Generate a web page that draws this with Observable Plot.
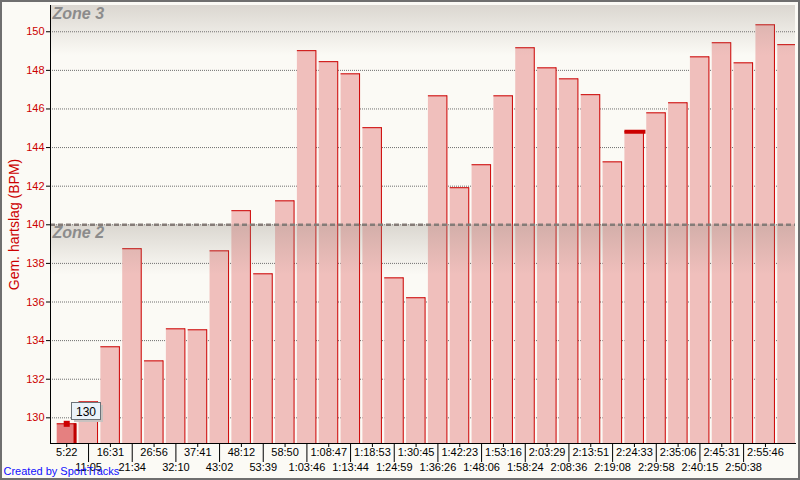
<!DOCTYPE html>
<html><head><meta charset="utf-8">
<script src="https://cdn.jsdelivr.net/npm/d3@7"></script>
<script src="https://cdn.jsdelivr.net/npm/@observablehq/plot@0.6"></script>
<style>
html,body{margin:0;padding:0;background:#fbfaf5;}
#wrap{position:relative;width:800px;height:480px;overflow:hidden;background:#fbfaf5;}
#border{position:absolute;left:0;top:0;width:800px;height:480px;box-sizing:border-box;border:2px solid #6f6f6f;pointer-events:none;}
</style></head>
<body><div id="wrap"><div id="border"></div></div>
<script>
// ---- data ----
const timeLabels = ["5:22","11:05","16:31","21:34","26:56","32:10","37:41","43:02","48:12","53:39","58:50",
  "1:03:46","1:08:47","1:13:44","1:18:53","1:24:59","1:30:45","1:36:26","1:42:23","1:48:06","1:53:16",
  "1:58:24","2:03:29","2:08:36","2:13:51","2:19:08","2:24:33","2:29:58","2:35:06","2:40:15","2:45:31",
  "2:50:38","2:55:46"];
const avgHeartRate = [129.69,130.83,133.68,138.76,132.95,134.61,134.56,138.65,140.73,137.46,141.24,
  149.02,148.45,147.82,145.03,137.25,136.22,146.68,141.92,143.11,146.68,
  149.17,148.13,147.56,146.74,143.26,144.82,145.80,146.32,148.70,149.43,
  148.39,150.36,149.33];
const yTicks = [130,132,134,136,138,140,142,144,146,148,150];
const yDomain = [128.67, 151.36];
const zoneNames = ["Zone 3","Zone 2"];
const zoneUpper = [160, 140];
const selectedIndex = 0;
const highlightIndex = 26;
const yLabel = "Gem. hartslag (BPM)";
const credit = "Created by SportTracks";

// ---- styles ----
const RED = "#cc0000";
const FONT = "'Liberation Sans', Arial, sans-serif";

const bars = avgHeartRate.map((v, i) => ({i, v}));
const normalBars = bars.filter(d => d.i !== selectedIndex);
const selBars = bars.filter(d => d.i === selectedIndex);
const zones = zoneNames.map((name, k) => ({name, top: Math.min(zoneUpper[k], yDomain[1])}));
const labelIdx = d3.range(timeLabels.length);
const topRow = labelIdx.filter(i => i % 2 === 0);
const bottomRow = labelIdx.filter(i => i % 2 === 1);
const yMin = () => yDomain[0];

const defsMark = () => {
  const g = d3.create("svg:defs");
  const lg = g.append("linearGradient").attr("id", "zoneGrad").attr("x1", 0).attr("y1", 0).attr("x2", 0).attr("y2", 1);
  lg.append("stop").attr("offset", "0%").attr("stop-color", "rgb(150,140,130)").attr("stop-opacity", 0.32);
  lg.append("stop").attr("offset", "100%").attr("stop-color", "rgb(150,140,130)").attr("stop-opacity", 0);
  return g.node();
};

const tooltipMark = (index, scales) => {
  const x = scales.x, y = scales.y;
  const bw = typeof x.bandwidth === "function" ? x.bandwidth() : (x.bandwidth || 0);
  const cx = x(selectedIndex) + bw / 2, cy = y(avgHeartRate[selectedIndex]);
  const bx = Math.round(cx + 5), by = Math.round(cy - 21), w = 29, h = 17;
  const g = d3.create("svg:g");
  g.append("rect").attr("x", bx + 3).attr("y", by + 3).attr("width", w).attr("height", h).attr("fill", "#c9c2c0");
  g.append("rect").attr("x", bx + 0.5).attr("y", by + 0.5).attr("width", w).attr("height", h)
    .attr("fill", "#eaf2f9").attr("stroke", "#6b7278");
  g.append("text").attr("x", bx + w / 2 + 0.5).attr("y", by + h / 2 + 1)
    .attr("text-anchor", "middle").attr("dominant-baseline", "central")
    .attr("font-size", 12).attr("font-family", FONT).attr("fill", "black")
    .text(d3.format(".0f")(avgHeartRate[selectedIndex]));
  return g.node();
};

const chart = Plot.plot({
  width: 800, height: 480,
  marginLeft: 50, marginRight: 5, marginTop: 5, marginBottom: 37,
  style: {background: "#fbfaf5", fontFamily: FONT, fontSize: "11px", overflow: "visible"},
  x: {type: "band", domain: d3.range(avgHeartRate.length), range: [50, 803],
      paddingInner: 0.128, paddingOuter: 0.307, round: false, axis: null, label: null},
  y: {domain: yDomain, axis: null, label: null},
  marks: [
    defsMark,
    Plot.gridY(yTicks, {stroke: "#6e6e6e", strokeOpacity: 1, strokeDasharray: "1,1"}),
    Plot.barY(normalBars, {x: "i", y1: yMin, y2: "v", fill: "#f0bfbc", clip: true}),
    Plot.barY(selBars, {x: "i", y1: yMin, y2: "v", fill: "#e58080", clip: true}),
    Plot.ruleX(bars, {x: "i", y1: yMin, y2: "v", dx: 9, stroke: RED, strokeWidth: 1, clip: true}),
    Plot.tickY(bars, {x: "i", y: "v", stroke: RED, strokeWidth: 1, clip: true}),
    Plot.ruleX(selBars, {x: "i", y1: yMin, y2: "v", dx: 8.3, stroke: "#bf0000", strokeWidth: 3}),
    Plot.tickY([highlightIndex], {x: i => i, y: i => avgHeartRate[i], stroke: RED, strokeWidth: 4, insetRight: -2}),
    Plot.barY(zones, {y1: "top", y2: d => d.top - 2.6, fill: "url(#zoneGrad)"}),
    Plot.ruleY(zoneUpper.filter(v => v < yDomain[1]), {stroke: "#857c78", strokeWidth: 2.5, strokeDasharray: "5,3"}),
    Plot.text(zones, {y: "top", text: "name", frameAnchor: "left", dx: 2, dy: 2, lineAnchor: "top", textAnchor: "start",
      fontSize: 16, fontWeight: "bold", fontStyle: "italic", fill: "#8c8c8c"}),
    Plot.frame({anchor: "left", stroke: "black"}),
    Plot.frame({anchor: "bottom", stroke: "black"}),
    Plot.axisY(yTicks, {tickSize: 4, tickPadding: 2, stroke: "black", fill: RED, fontSize: 11, label: null}),
    Plot.axisX(topRow, {tickSize: 4, tickPadding: 1, tickFormat: i => timeLabels[i], stroke: "black", fill: "black", fontSize: 11, label: null}),
    Plot.axisX(bottomRow, {tickSize: 19, tickPadding: 1, tickFormat: i => timeLabels[i], stroke: "black", fill: "black", fontSize: 11, label: null}),
    Plot.dot([selectedIndex], {x: i => i, y: i => avgHeartRate[i], symbol: "square", r: 3.4, fill: RED, stroke: "none"}),
    tooltipMark,
    Plot.text([yLabel], {frameAnchor: "left", rotate: -90, dx: -36, fill: RED, fontSize: 14, textAnchor: "middle"}),
    Plot.text([credit], {frameAnchor: "bottom-left", dx: -47, dy: 28, textAnchor: "start", lineAnchor: "middle",
      fill: "#1010ff", fontSize: 11})
  ]
});
document.getElementById("wrap").insertBefore(chart, document.getElementById("border"));
</script>
</body></html>
